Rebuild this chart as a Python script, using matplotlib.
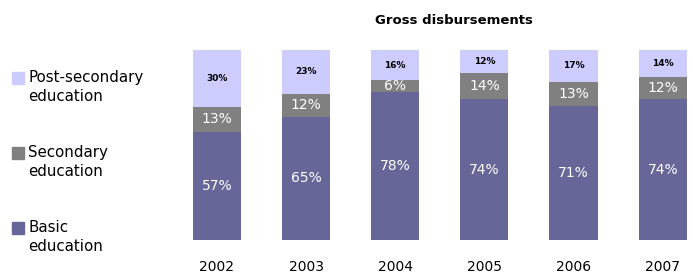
import numpy as np
import matplotlib.pyplot as plt
from matplotlib.patches import Rectangle

# datos (porcentajes)
years = ['2002', '2003', '2004', '2005', '2006', '2007']
basic = [57, 65, 78, 74, 71, 74]
secondary = [13, 12, 6, 14, 13, 12]
post_secondary = [30, 23, 16, 12, 17, 14]

series_names = ['Post-secondary\neducation', 'Secondary\neducation', 'Basic\neducation']
colors = ['#CCCCFF', '#808080', '#666699']

W, H = 693, 273
fig = plt.figure(figsize=(W / 100, H / 100), dpi=100)
ax = fig.add_axes([172.4 / W, (H - 240) / H, (W - 172.4) / W, 190 / H])

b = np.array(basic, float)
s = np.array(secondary, float)
p = np.array(post_secondary, float)
tot = b + s + p
# normalizo a 100 (2006 suma 101)
bn, sn, pn = b / tot * 100, s / tot * 100, p / tot * 100

x = np.arange(len(years))
w = 0.54
ax.bar(x, bn, w, color=colors[2])
ax.bar(x, sn, w, bottom=bn, color=colors[1])
ax.bar(x, pn, w, bottom=bn + sn, color=colors[0])

for i in range(len(years)):
    ax.text(x[i], bn[i] / 2, f"{basic[i]}%", ha='center', va='center',
            color='white', fontsize=10)
    ax.text(x[i], bn[i] + sn[i] / 2, f"{secondary[i]}%", ha='center', va='center',
            color='white', fontsize=10)
    ax.text(x[i], bn[i] + sn[i] + pn[i] / 2, f"{post_secondary[i]}%", ha='center',
            va='center', color='black', fontsize=6.5, fontweight='bold')
    ax.text(x[i], -0.142, years[i], ha='center', va='center', fontsize=10,
            transform=ax.get_xaxis_transform())

ax.set_xlim(-0.5, 5.34)
ax.set_ylim(0, 100)
ax.axis('off')

fig.text(454 / W, 1 - 20 / H, 'Gross disbursements', ha='center', va='center',
         fontsize=9.5, fontweight='bold')

# leyenda a mano
leg_y = [78, 153, 228]
for name, col, yy in zip(series_names, colors, leg_y):
    fig.patches.append(Rectangle((12 / W, 1 - (yy + 6) / H), 12 / W, 12 / H,
                                 transform=fig.transFigure, color=col))
    fig.text(28 / W, 1 - (yy - 8) / H, name, ha='left', va='top', fontsize=10.8,
             linespacing=1.35)

fig.savefig('out.png', dpi=100)
